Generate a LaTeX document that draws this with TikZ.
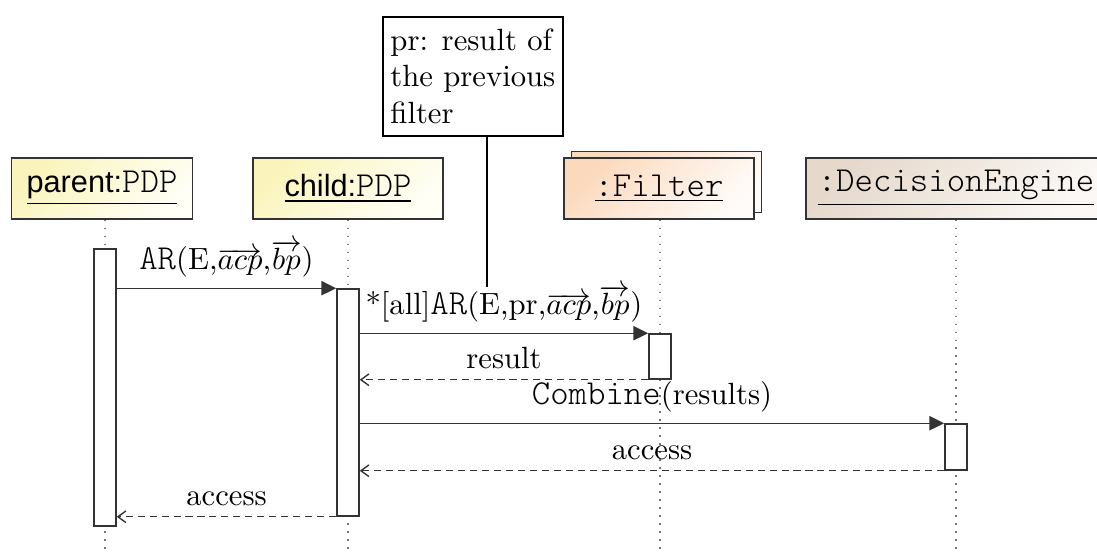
\documentclass[tikz,border=0pt]{standalone}
\usepackage{fontspec}
\setsansfont{Liberation Sans}
\setmonofont[Scale=1.143]{Latin Modern Mono Light}
\usetikzlibrary{arrows.meta}

% instance fill tints
\definecolor{pdptint}{HTML}{FAF4BC}
\definecolor{pdpwhite}{HTML}{FFFFF6}
\definecolor{filtint}{HTML}{FBD9BC}
\definecolor{filwhite}{HTML}{FFFBF8}
\definecolor{engtint}{HTML}{E6D9CC}
\definecolor{engwhite}{HTML}{FBF8F5}
\definecolor{inkline}{HTML}{333333}

\def\pu{0.3257pt}

\tikzset{
  inst/.style={draw=inkline, line width=0.5pt, inner sep=0pt,
    minimum height=61*\pu, shading=axis, shading angle=45},
  pdpfill/.style={top color=pdptint, bottom color=pdpwhite, shading angle=45},
  filfill/.style={top color=filtint, bottom color=filwhite, shading angle=45},
  engfill/.style={top color=engtint, bottom color=engwhite, shading angle=45},
  life/.style={draw=black!55, line width=0.5pt, dash pattern=on 0.5pt off 2.1pt},
  actbar/.style={draw=inkline, line width=0.5pt, fill=white, inner sep=0pt,
    minimum width=22*\pu},
  call/.style={draw=inkline, line width=0.45pt, -{Triangle[length=4.8pt,width=4.6pt]}},
  reply/.style={draw=inkline, line width=0.45pt, dash pattern=on 2.3pt off 1.6pt,
    -{Straight Barb[length=2.6pt,width=3.8pt]}},
  msg/.style={above, text=black},
  notebox/.style={draw=black, line width=0.5pt, fill=white, align=left,
    inner xsep=2.5pt, inner ysep=3.8pt},
}

\begin{document}
\begin{tikzpicture}[x=\pu, y=-\pu]
\useasboundingbox (0,0) rectangle (1097,556);

% lifeline ends
\coordinate (pend) at (105,553);
\coordinate (cend) at (348,553);
\coordinate (fend) at (660,553);
\coordinate (dend) at (956,553);

% instance heads
\node[inst, pdpfill, minimum width=181*\pu] (ph) at (102,188.5)
  {\underline{\sffamily parent:\ttfamily PDP}};
\node[inst, pdpfill, minimum width=190*\pu] (ch) at (348,188.5)
  {\underline{\sffamily child:\ttfamily PDP}};
\node[inst, filfill, minimum width=190*\pu] (fhback) at (666.5,182) {};
\node[inst, filfill, minimum width=190*\pu] (fh) at (659,188.5)
  {\underline{\ttfamily :Filter}};
\node[inst, engfill, minimum width=300*\pu] (dh) at (956,188.5)
  {\underline{\ttfamily :DecisionEngine}};

% lifelines
\draw[life] (ph.south -| pend) -- (pend);
\draw[life] (ch.south -| cend) -- (cend);
\draw[life] (fh.south -| fend) -- (fend);
\draw[life] (dh.south -| dend) -- (dend);

% activation bars
\node[actbar, minimum height=277*\pu] (pb) at (105,387.5) {};
\node[actbar, minimum height=227*\pu] (cb) at (348,402.5) {};
\node[actbar, minimum height=45*\pu]  (fb) at (660,356.5) {};
\node[actbar, minimum height=46*\pu]  (db) at (956,447) {};

% messages
\draw[call] (pb.east |- cb.north) -- node[msg] (m1)
  {\texttt{AR}(E,$\overrightarrow{acp}$,$\overrightarrow{bp}$)} (cb.north west);
\draw[call] (cb.east |- fb.north) -- node[msg] (m2)
  {*[all]\texttt{AR}(E,pr,$\overrightarrow{acp}$,$\overrightarrow{bp}$)} (fb.north west);
\draw[reply] (fb.south west) -- node[msg] (m3) {result} (cb.east |- fb.south);
\draw[call] (cb.east |- db.north) -- node[msg] (m4)
  {\texttt{Combine}(results)} (db.north west);
\draw[reply] (db.south west) -- node[msg] (m5) {access} (cb.east |- db.south);
\draw[reply] (cb.south west) -- node[msg] (m6) {access} (pb.east |- cb.south);

% note on the filter call
\node[notebox, anchor=north west] (note) at (382,16)
  {pr: result of\\the previous\\filter};
\coordinate (noteend) at (487,287);
\draw[draw=black, line width=0.45pt] (note.south -| noteend) -- (noteend);
\end{tikzpicture}
\end{document}
